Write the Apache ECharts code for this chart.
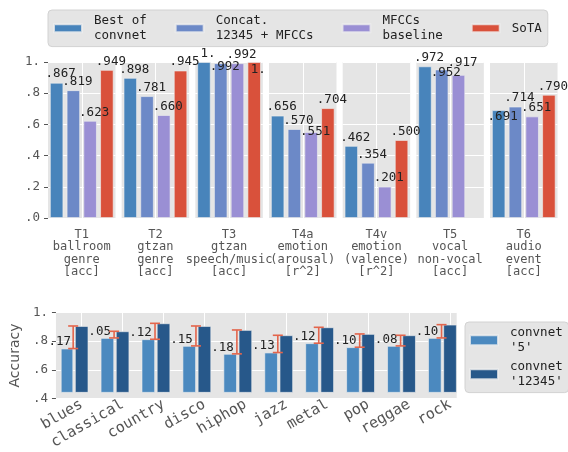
<!DOCTYPE html>
<html>
<head>
<meta charset="utf-8">
<script src="https://cdn.jsdelivr.net/npm/echarts@6/dist/echarts.min.js"></script>
<style>
  html, body { margin: 0; padding: 0; background: #fff; }
  #chart { width: 568px; height: 452px; }
</style>
</head>
<body>
<div id="chart"></div>
<script>
// ---- data: task comparison (top) ----
const TASK_LABELS = [
  'T1\nballroom\ngenre\n[acc]',
  'T2\ngtzan\ngenre\n[acc]',
  'T3\ngtzan\nspeech/music\n[acc]',
  'T4a\nemotion\n(arousal)\n[r^2]',
  'T4v\nemotion\n(valence)\n[r^2]',
  'T5\nvocal\nnon-vocal\n[acc]',
  'T6\naudio\nevent\n[acc]'
];
const TOP_NAMES = ['Best of\nconvnet', 'Concat.\n12345 + MFCCs', 'MFCCs\nbaseline', 'SoTA'];
const bestConvnet  = [0.867, 0.898, 1.000, 0.656, 0.462, 0.972, 0.691];
const concatMfcc   = [0.819, 0.781, 0.992, 0.570, 0.354, 0.952, 0.714];
const mfccBaseline = [0.623, 0.660, 0.992, 0.551, 0.201, 0.917, 0.651];
const sota         = [0.949, 0.945, 1.000, 0.704, 0.500, null,  0.790];

// ---- data: per-genre accuracy (bottom) ----
const GENRES = ['blues', 'classical', 'country', 'disco', 'hiphop', 'jazz', 'metal', 'pop', 'reggae', 'rock'];
const BOTTOM_NAMES = ["convnet\n'5'", "convnet\n'12345'"];
const convnet5     = [0.73, 0.81, 0.80, 0.75, 0.69, 0.70, 0.77, 0.74, 0.75, 0.81];
const convnet12345 = [0.90, 0.86, 0.92, 0.90, 0.87, 0.83, 0.89, 0.84, 0.83, 0.91];

// ---- styling / layout ----
const MONO = 'DejaVu Sans Mono';
const PANEL_BG = '#E5E5E5';
const TOP_COLORS = ['#4884bb', '#6c89c7', '#9a8fd4', '#d9513b'];
const LIGHT_BLUE = '#4b89bf';
const DARK_BLUE = '#27588a';
const ERR_COLOR = '#e3654c';
const EDGE = 'rgba(238,238,238,0.8)';
// vertical nudges (px) that keep crowded value labels apart, per series and panel
const TOP_LABEL_NUDGE = [
  [0, 0, 0, 0, 0, 0, 15],
  [0, 0, 12, 0, 0, 12, 0],
  [0, 0, 0, 8, 0, -4, 0],
  [0, 0, 16, 0, 0, 0, 0]
];
const topValues = [bestConvnet, concatMfcc, mfccBaseline, sota];

// ".867", "1.", ".0" style number text
function fmtVal(v, digits) {
  const s = v.toFixed(digits);
  const parts = s.split('.');
  if (parts[0] !== '0' && /^0+$/.test(parts[1])) return parts[0] + '.';
  return parts[0] === '0' ? '.' + parts[1] : s;
}

const grids = [], xAxes = [], yAxes = [], series = [];

// top: one small panel per task
TASK_LABELS.forEach((task, p) => {
  grids.push({
    left: 48 + p * 73.67, top: 62, width: 67.5, height: 156,
    show: true, backgroundColor: PANEL_BG, borderWidth: 0
  });
  xAxes.push({
    type: 'category', gridIndex: p, data: [task],
    axisLine: { show: false }, axisTick: { show: false },
    axisLabel: { interval: 0, margin: 11, fontFamily: MONO, fontSize: 12, lineHeight: 12.2, color: '#555' },
    splitLine: { show: true, alignWithLabel: true, lineStyle: { color: '#fff', width: 1 } }
  });
  yAxes.push({
    type: 'value', gridIndex: p, min: 0, max: 1, interval: 0.2,
    axisLine: { show: false },
    axisTick: { show: p === 0, length: 4, lineStyle: { color: '#555' } },
    axisLabel: { show: p === 0, margin: 8, fontFamily: MONO, fontSize: 12.5, color: '#555',
                 formatter: v => fmtVal(v, 1) },
    splitLine: { show: true, lineStyle: { color: '#fff', width: 1 } }
  });
  TOP_NAMES.forEach((name, s) => {
    const v = topValues[s][p];
    series.push({
      type: 'bar', name, xAxisIndex: p, yAxisIndex: p,
      barWidth: 13.4, barGap: '25%',
      itemStyle: { color: TOP_COLORS[s], borderColor: EDGE, borderWidth: 0.8 },
      label: { show: true, position: 'top', distance: 2, fontFamily: MONO, fontSize: 12.5, color: '#222',
               formatter: d => fmtVal(d.value, 3) },
      data: [v == null ? '-' : { value: v, label: { offset: [4, TOP_LABEL_NUDGE[s][p]] } }]
    });
  });
});

// bottom: background panel with the accuracy scale
const BG = grids.length;
grids.push({ left: 51.7, top: 312.7, width: 405, height: 85.6, show: true, backgroundColor: PANEL_BG, borderWidth: 0 });
xAxes.push({ type: 'value', gridIndex: BG, show: false, min: 0, max: 1 });
yAxes.push({
  type: 'value', gridIndex: BG, min: 0.4, max: 1, interval: 0.2,
  name: 'Accuracy', nameLocation: 'middle', nameGap: 29,
  nameTextStyle: { fontFamily: 'DejaVu Sans', fontSize: 14, color: '#555' },
  axisLine: { show: false },
  axisTick: { show: true, length: 4, lineStyle: { color: '#555' } },
  axisLabel: { margin: 8, fontFamily: MONO, fontSize: 12.5, color: '#555', formatter: v => fmtVal(v, 1) },
  splitLine: { show: true, lineStyle: { color: '#fff', width: 1 } }
});

// bottom: bars, with each genre tick on the '12345' bar
const DG = grids.length;
grids.push({ left: 61.2, top: 312.7, width: 409.3, height: 85.6, show: false });
xAxes.push({
  type: 'category', gridIndex: DG, data: GENRES,
  axisLine: { show: false }, axisTick: { show: false },
  axisLabel: { interval: 0, rotate: 30, margin: 11, fontFamily: MONO, fontSize: 15, color: '#555' },
  splitLine: { show: true, alignWithLabel: true, lineStyle: { color: '#fff', width: 1 } }
});
yAxes.push({ type: 'value', gridIndex: DG, min: 0.4, max: 1, show: false });

const BAR_W = 13.5;
series.push({
  type: 'bar', name: BOTTOM_NAMES[0], xAxisIndex: DG, yAxisIndex: DG,
  barWidth: BAR_W, barGap: '12.6%',
  itemStyle: { color: LIGHT_BLUE, borderColor: EDGE, borderWidth: 0.8 },
  label: {
    show: true, position: [0, 0], align: 'center', verticalAlign: 'bottom', offset: [-1, 0],
    fontFamily: MONO, fontSize: 12.5, color: '#222',
    formatter: p => fmtVal(convnet12345[p.dataIndex] - convnet5[p.dataIndex], 2)
  },
  data: convnet5
});
series.push({
  type: 'bar', name: BOTTOM_NAMES[1], xAxisIndex: DG, yAxisIndex: DG,
  barWidth: BAR_W, barGap: '12.6%',
  itemStyle: { color: DARK_BLUE, borderColor: EDGE, borderWidth: 0.8 },
  data: convnet12345
});
// empty slot to the right so the '12345' bar sits on the tick
series.push({
  type: 'bar', name: 'spacer', xAxisIndex: DG, yAxisIndex: DG,
  barWidth: BAR_W, barGap: '12.6%', data: GENRES.map(() => '-')
});
// gain between the two models, drawn as an error bar between the bars
series.push({
  type: 'custom', name: 'gain', xAxisIndex: DG, yAxisIndex: DG, z: 5,
  encode: { x: 0, y: [1, 2] },
  data: GENRES.map((g, i) => [i, convnet5[i], convnet12345[i]]),
  renderItem(params, api) {
    const i = api.value(0);
    const lo = api.coord([i, api.value(1)]);
    const hi = api.coord([i, api.value(2)]);
    const x = lo[0] - 8.5;
    const st = { stroke: ERR_COLOR, lineWidth: 1.6 };
    return {
      type: 'group',
      children: [
        { type: 'line', shape: { x1: x, y1: lo[1], x2: x, y2: hi[1] }, style: st },
        { type: 'line', shape: { x1: x - 5, y1: lo[1], x2: x + 5, y2: lo[1] }, style: st },
        { type: 'line', shape: { x1: x - 5, y1: hi[1], x2: x + 5, y2: hi[1] }, style: st }
      ]
    };
  }
});

// legend entries: each line is an indent token plus a fixed-width, left-aligned token,
// so every line of a name starts at the same x
const FONT = { fontFamily: MONO, fontSize: 12.5, color: '#222', lineHeight: 14.3 };
const CHAR_W = 12.5 * 0.602;
const LEGEND_NAMES = TOP_NAMES.concat(BOTTOM_NAMES);
const legendRich = { gap: Object.assign({ width: 7 }, FONT) };
LEGEND_NAMES.forEach((name, k) => {
  const w = Math.max(...name.split('\n').map(l => l.length)) * CHAR_W + 1;
  legendRich['n' + k] = Object.assign({ width: w, align: 'left' }, FONT);
});
const legendFormatter = name => {
  const k = LEGEND_NAMES.indexOf(name);
  return name.split('\n').map(l => '{gap| }{n' + k + '|' + l + '}').join('\n');
};
const legendText = Object.assign({ rich: legendRich }, FONT);

const option = {
  animation: false,
  backgroundColor: '#fff',
  legend: [
    {
      data: TOP_NAMES, left: 48, top: 10, padding: [4, 5, 4, 5], itemGap: 27,
      itemWidth: 28, itemHeight: 8, icon: 'rect', selectedMode: false,
      backgroundColor: PANEL_BG, borderColor: '#d2d2d2', borderWidth: 1, borderRadius: 4,
      formatter: legendFormatter, textStyle: legendText
    },
    {
      data: BOTTOM_NAMES, orient: 'vertical', left: 465, top: 322, padding: [4, 5, 4, 4], itemGap: 5.4,
      itemWidth: 28, itemHeight: 10, icon: 'rect', selectedMode: false,
      backgroundColor: PANEL_BG, borderColor: '#d2d2d2', borderWidth: 1, borderRadius: 4,
      formatter: legendFormatter, textStyle: legendText
    }
  ],
  grid: grids,
  xAxis: xAxes,
  yAxis: yAxes,
  series
};

echarts.init(document.getElementById('chart'), null, { renderer: 'canvas' }).setOption(option);
</script>
</body>
</html>
